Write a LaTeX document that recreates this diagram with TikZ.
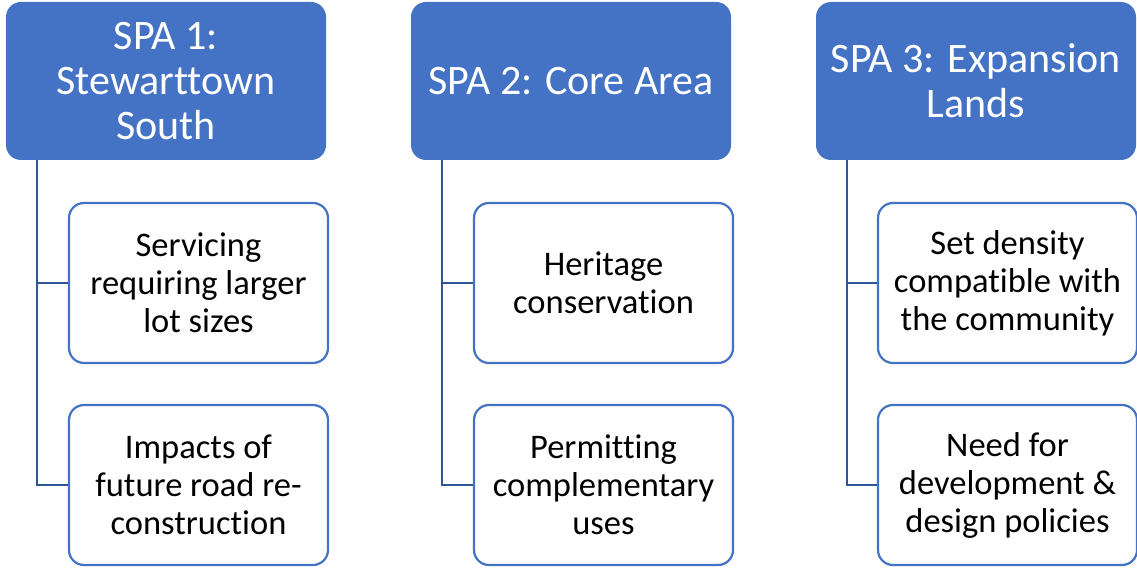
\documentclass[tikz,border=0pt]{standalone}
\usepackage{fontspec}
\setmainfont{Carlito}[Ligatures=NoCommon]
\definecolor{hdrblue}{HTML}{4472C4}
\definecolor{linkblue}{HTML}{2F5597}
\begin{document}
\begin{tikzpicture}[x=1pt,y=-1pt,
  header/.style={fill=hdrblue, draw=none, rounded corners=15pt,
    minimum width=320pt, minimum height=158pt, text=white,
    align=center, inner sep=0pt,
    font=\fontsize{42}{45}\selectfont},
  item/.style={draw=hdrblue, line width=2.2pt, fill=white, rounded corners=15pt,
    minimum width=259pt, minimum height=160pt, text=black,
    align=center, inner sep=0pt,
    font=\fontsize{34.5}{38}\selectfont},
  link/.style={draw=linkblue, line width=2.2pt}]
\useasboundingbox (0,0) rectangle (1137,569);

% column 1
\node[header] (h1) at (166,81) {SPA 1:\\Stewarttown\\South};
\node[item] (a1) at (198.5,283) {Servicing\\requiring larger\\lot sizes};
\node[item] (a2) at (198.5,485) {Impacts of\\future road re-\\construction};
\draw[link] ([xshift=31pt]h1.south west) |- (a1.west);
\draw[link] ([xshift=31pt]h1.south west) |- (a2.west);

% column 2
\node[header] (h2) at (571,81) {SPA 2: Core Area};
\node[item] (b1) at (603.5,283) {Heritage\\conservation};
\node[item] (b2) at (603.5,485) {Permitting\\complementary\\uses};
\draw[link] ([xshift=31pt]h2.south west) |- (b1.west);
\draw[link] ([xshift=31pt]h2.south west) |- (b2.west);

% column 3
\node[header] (h3) at (976,81) {SPA 3: Expansion\\Lands};
\node[item] (c1) at (1007.5,283) {Set density\\compatible with\\the community};
\node[item] (c2) at (1007.5,485) {Need for\\development \&\\design policies};
\draw[link] ([xshift=31pt]h3.south west) |- (c1.west);
\draw[link] ([xshift=31pt]h3.south west) |- (c2.west);
\end{tikzpicture}
\end{document}
